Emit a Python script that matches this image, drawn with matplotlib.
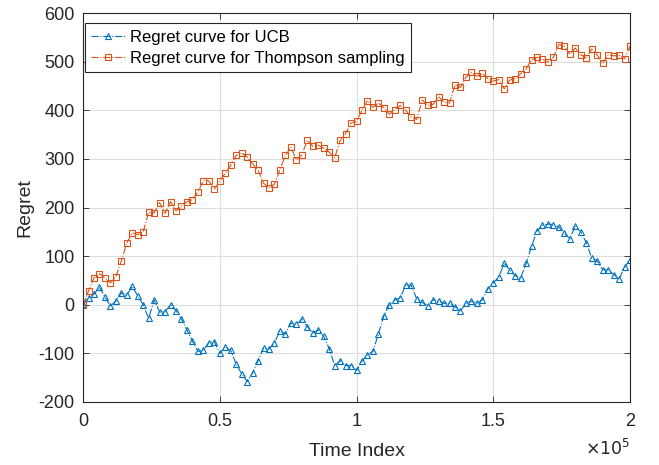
import numpy as np
import matplotlib
matplotlib.use('Agg')
import matplotlib.pyplot as plt
from matplotlib.ticker import FuncFormatter

plt.rcParams['font.family'] = ['Liberation Sans', 'DejaVu Sans']
plt.rcParams['axes.unicode_minus'] = False

# time index, one sample every 2000 steps
time_index = np.arange(0, 200001, 2000)

regret_ucb = [
    2, 14, 22, 36, 16, -3, 8, 24, 20, 38,
    18, 0, -28, 10, -15, -14, 0, -12, -30, -52,
    -75, -96, -93, -78, -76, -100, -87, -94, -122, -142,
    -158, -140, -115, -89, -91, -78, -54, -60, -38, -40,
    -30, -45, -58, -52, -65, -90, -125, -115, -125, -125,
    -135, -116, -103, -96, -60, -23, 0, 10, 14, 41,
    40, 12, 5, -2, 10, 8, 3, 3, -4, -13,
    3, 7, 3, 10, 33, 45, 57, 85, 72, 60,
    55, 85, 120, 152, 163, 166, 165, 160, 147, 136,
    162, 150, 128, 96, 90, 72, 72, 62, 53, 77,
    93]

regret_ts = [
    0, 28, 55, 64, 55, 45, 58, 90, 127, 148,
    144, 150, 190, 189, 210, 188, 212, 193, 203, 212,
    216, 232, 255, 255, 238, 255, 270, 287, 307, 312,
    304, 290, 277, 250, 241, 248, 278, 307, 324, 298,
    308, 338, 326, 328, 322, 314, 302, 338, 352, 374,
    377, 400, 420, 406, 415, 405, 392, 401, 410, 400,
    386, 381, 421, 410, 412, 428, 417, 415, 452, 447,
    468, 478, 470, 476, 465, 460, 463, 444, 462, 465,
    475, 485, 504, 509, 505, 499, 509, 535, 532, 515,
    528, 514, 508, 526, 514, 497, 514, 512, 513, 506,
    532]

labels = ['Regret curve for UCB', 'Regret curve for Thompson sampling']
colors = ['#0072BD', '#D95319']

fig = plt.figure(figsize=(6.59, 4.65), dpi=100)
ax = fig.add_axes([0.126, 0.1355, 0.830, 0.8365])

ax.plot(time_index, regret_ucb, '-.', color=colors[0], lw=0.8,
        marker='^', ms=4.5, mfc='none', mew=0.8, label=labels[0])
ax.plot(time_index, regret_ts, '-.', color=colors[1], lw=0.8,
        marker='s', ms=4, mfc='none', mew=0.8, label=labels[1])

ax.set_xlim(0, 200000)
ax.set_ylim(-200, 600)
ax.set_xticks([0, 50000, 100000, 150000, 200000])
ax.set_yticks(range(-200, 601, 100))
ax.xaxis.set_major_formatter(FuncFormatter(lambda v, p: '%g' % (v / 1e5)))
ax.grid(True, color='#dedede', lw=0.8)
ax.set_axisbelow(True)
ax.tick_params(direction='in', top=True, right=True, labelsize=13,
               colors='#262626', length=4, width=0.6)
ax.tick_params(axis='x', pad=8)
ax.tick_params(axis='y', pad=6)
for s in ax.spines.values():
    s.set_color('#262626')
    s.set_linewidth(0.8)

ax.set_xlabel('Time Index', fontsize=14, color='#262626', labelpad=9)
ax.set_ylabel('Regret', fontsize=14, color='#262626', labelpad=4)
ax.text(1.0, -0.092, r'$\times10^5$', transform=ax.transAxes, fontsize=12.5,
        ha='right', va='top', color='#262626')

leg = ax.legend(loc='upper left', bbox_to_anchor=(0.0, 0.978), fontsize=12,
                fancybox=False, framealpha=1, edgecolor='#262626',
                borderaxespad=0.1, handlelength=2.0, borderpad=0.4,
                labelspacing=0.35, handletextpad=0.3)
leg.get_frame().set_linewidth(0.8)

fig.savefig('out.png', dpi=100)
